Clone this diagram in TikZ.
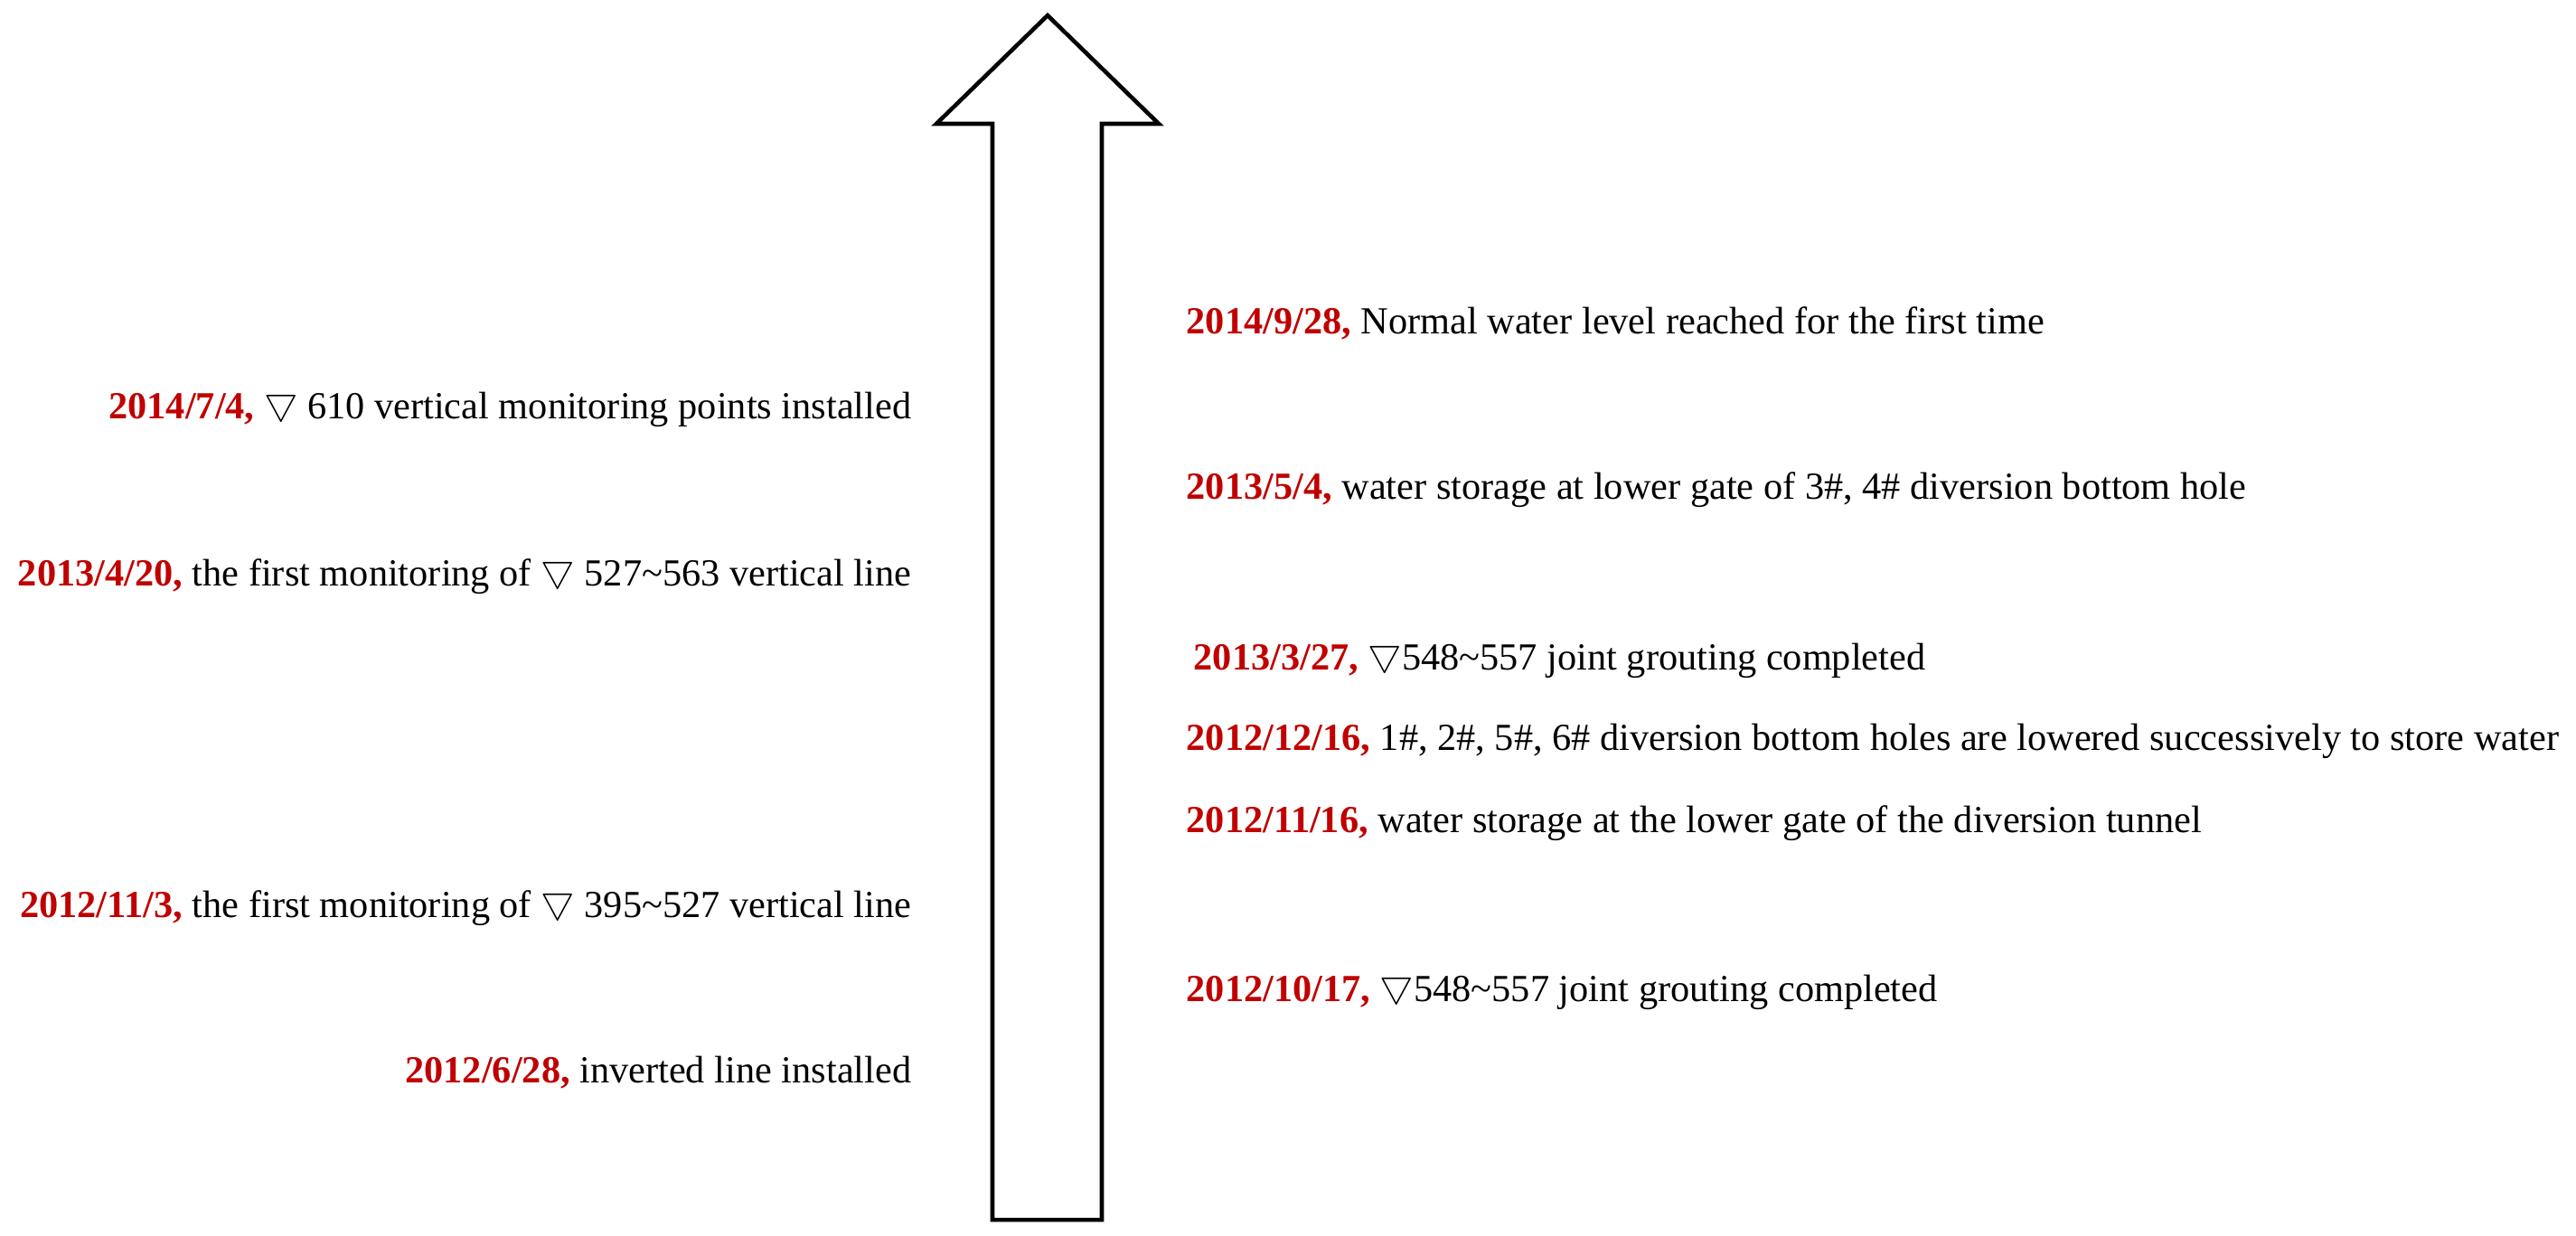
\documentclass[tikz,border=0pt]{standalone}
\usepackage{fontspec}
\setmainfont{Liberation Serif}
\usepackage{tikz}
\usetikzlibrary{arrows}
\usetikzlibrary{shapes}
\definecolor{datered}{RGB}{192,0,0}
\newcommand{\when}[1]{\textbf{\textcolor{datered}{#1}}}
\newcommand{\lvl}{\raisebox{0.25ex}{$\bigtriangledown$}}
\tikzstyle{eventleft} = [anchor=east, inner sep=0pt, font=\fontsize{12.05pt}{14pt}\selectfont]
\tikzstyle{eventright} = [anchor=west, inner sep=0pt, font=\fontsize{12.05pt}{14pt}\selectfont]
\tikzstyle{bigarrow} = [draw=black, line width=1.3pt, fill=white, miter limit=20]

\begin{document}
\begin{tikzpicture}
\useasboundingbox (0,0) rectangle (28.5,-13.67);

\draw [bigarrow] (11.59,-0.17) -- (12.82,-1.37) -- (12.19,-1.37) -- (12.19,-13.50) -- (10.98,-13.50) -- (10.98,-1.37) -- (10.36,-1.37) -- cycle;

\node [eventright] (r1) at (13.12,-3.58) {\when{2014/9/28,} Normal water level reached for the first time};
\node [eventright] (r2) at (13.12,-5.42) {\when{2013/5/4,} water storage at lower gate of 3\#, 4\# diversion bottom hole};
\node [eventright] (r3) at (13.20,-7.29) {\when{2013/3/27,} \lvl548\textasciitilde557 joint grouting completed};
\node [eventright] (r4) at (13.12,-8.20) {\when{2012/12/16,} 1\#, 2\#, 5\#, 6\# diversion bottom holes are lowered successively to store water};
\node [eventright] (r5) at (13.12,-9.11) {\when{2012/11/16,} water storage at the lower gate of the diversion tunnel};
\node [eventright] (r6) at (13.12,-10.96) {\when{2012/10/17,} \lvl548\textasciitilde557 joint grouting completed};

\node [eventleft] (l1) at (10.09,-4.51) {\when{2014/7/4,} \lvl{} 610 vertical monitoring points installed};
\node [eventleft] (l2) at (10.09,-6.36) {\when{2013/4/20,} the first monitoring of \lvl{} 527\textasciitilde563 vertical line};
\node [eventleft] (l3) at (10.09,-10.03) {\when{2012/11/3,} the first monitoring of \lvl{} 395\textasciitilde527 vertical line};
\node [eventleft] (l4) at (10.09,-11.87) {\when{2012/6/28,} inverted line installed};

\end{tikzpicture}
\end{document}
